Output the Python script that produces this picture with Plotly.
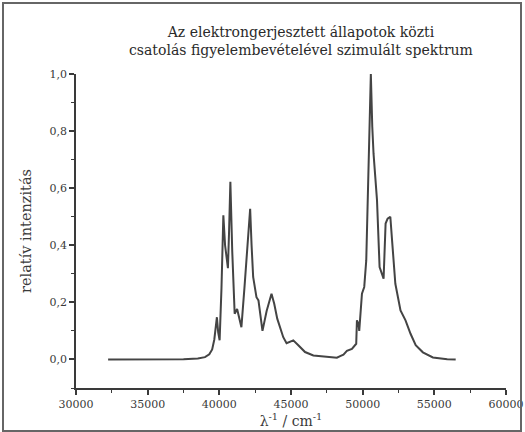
import plotly.graph_objects as go

# Spectrum (wavenumber in cm^-1, relative intensity)
wavenumber = [32240, 34000, 36000, 37500, 38500, 39000, 39300, 39500, 39650, 39750, 39830, 39920, 40020,
              40150, 40280, 40400, 40490, 40600, 40680, 40770, 40900, 41070, 41240, 41400, 41540,
              41750, 41960, 42150, 42250, 42360, 42590, 42730, 43010, 43300, 43640, 43830, 44040,
              44460, 44690, 45160, 45510, 45980, 46560, 47000, 47500, 47800, 48200, 48430, 48660,
              48900, 49250, 49550, 49600, 49710, 49760, 49950, 50110, 50250, 50400, 50570, 50670,
              50760, 51000, 51180, 51460, 51600, 51740, 51930, 52050, 52280, 52640, 52990, 53340,
              53700, 54200, 54900, 55900, 56490]
intensity = [0.0, 0.0, 0.0, 0.001, 0.003, 0.008, 0.018, 0.035, 0.07, 0.13, 0.148, 0.095, 0.067,
             0.25, 0.505, 0.40, 0.36, 0.32, 0.45, 0.622, 0.38, 0.16, 0.177, 0.14, 0.113,
             0.25, 0.394, 0.528, 0.40, 0.289, 0.218, 0.207, 0.10, 0.17, 0.23, 0.195, 0.143,
             0.078, 0.057, 0.067, 0.05, 0.026, 0.014, 0.012, 0.01, 0.008, 0.006, 0.012, 0.017,
             0.03, 0.037, 0.055, 0.137, 0.125, 0.10, 0.23, 0.254, 0.347, 0.65, 1.0, 0.815,
             0.72, 0.558, 0.324, 0.283, 0.476, 0.493, 0.50, 0.418, 0.265, 0.172, 0.137, 0.09,
             0.05, 0.025, 0.007, 0.001, 0.0]

x_ticks = [30000, 35000, 40000, 45000, 50000, 55000, 60000]
x_ticktext = ["30000", "35000", "40000", "45000", "50000", "55000", "60000"]
y_ticks = [0.0, 0.2, 0.4, 0.6, 0.8, 1.0]
y_ticktext = ["0,0", "0,2", "0,4", "0,6", "0,8", "1,0"]

title_text = "Az elektrongerjesztett állapotok közti<br>csatolás figyelembevételével szimulált spektrum"
x_title = "λ<sup>-1</sup> / cm<sup>-1</sup>"
y_title = "relatív intenzitás"

SERIF = "DejaVu Serif, Liberation Serif, serif"
INK = "#3a3a3a"

fig = go.Figure()
fig.add_trace(go.Scatter(x=wavenumber, y=intensity, mode="lines",
                         line=dict(color="#444444", width=2), showlegend=False,
                         hoverinfo="skip"))

W, H = 525, 432
L, R, T, B = 76, 19, 74, 44
pw, ph = W - L - R, H - T - B

def px_x(p):
    return (p - L) / pw

def px_y(p):
    return (H - B - p) / ph

fig.update_layout(
    width=W, height=H,
    margin=dict(l=L, r=R, t=T, b=B, autoexpand=False),
    paper_bgcolor="white", plot_bgcolor="white",
    font=dict(family=SERIF, color=INK, size=11),
    xaxis=dict(range=[30000, 60000], showgrid=False, zeroline=False, automargin=False,
               showline=True, linecolor=INK, linewidth=1.8,
               ticks="outside", ticklen=5, tickwidth=1.5, tickcolor=INK,
               tickvals=x_ticks, ticktext=x_ticktext,
               tickfont=dict(family=SERIF, size=11, color=INK),
               minor=dict(ticks="outside", ticklen=3, tickwidth=1.2, tickcolor=INK, dtick=2500),
               title=dict(text=x_title, font=dict(family=SERIF, size=14, color=INK), standoff=2)),
    yaxis=dict(range=[-0.1, 1.0], showgrid=False, zeroline=False, automargin=False,
               showline=True, linecolor=INK, linewidth=1.8,
               ticks="outside", ticklen=5, tickwidth=1.5, tickcolor=INK,
               tickvals=y_ticks, ticktext=y_ticktext,
               tickfont=dict(family=SERIF, size=11, color=INK),
               minor=dict(ticks="outside", ticklen=3, tickwidth=1.2, tickcolor=INK, dtick=0.1, tick0=0),
               title=dict(text=y_title, font=dict(family=SERIF, size=14.5, color=INK), standoff=14)),
    annotations=[dict(text=title_text, xref="paper", yref="paper",
                      x=px_x(301), y=px_y(41), xanchor="center", yanchor="middle",
                      showarrow=False, align="center",
                      font=dict(family=SERIF, size=14, color="#2a2a2a"))],
    shapes=[dict(type="rect", xref="paper", yref="paper",
                 x0=px_x(3), x1=px_x(521), y0=px_y(431), y1=px_y(3),
                 line=dict(color="#666666", width=2), fillcolor="rgba(0,0,0,0)")],
)

fig.write_html("out.html")
